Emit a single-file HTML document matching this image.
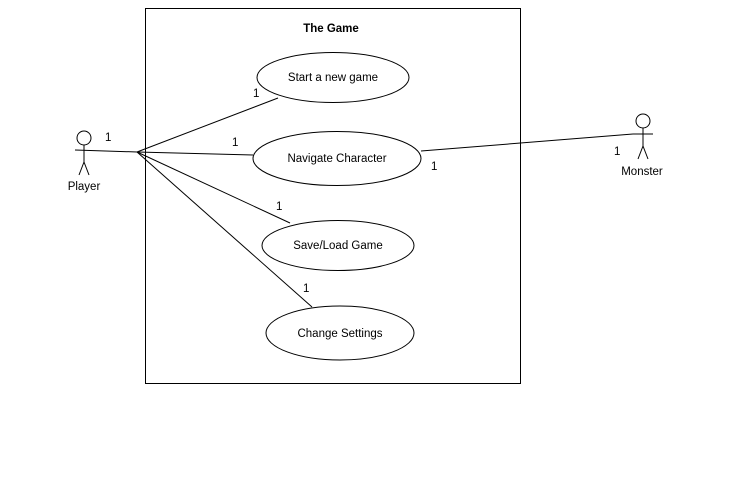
<!DOCTYPE html><html><head><style>body{margin:0;background:#fff}svg{display:block}text{font-family:"Liberation Sans",sans-serif;font-size:11.5px;fill:#000}</style></head><body>
<svg width="732" height="504" viewBox="0 0 732 504">
<rect x="145.5" y="8.5" width="375" height="375" fill="#fff" stroke="#000"/>
<text x="331" y="32" text-anchor="middle" font-weight="bold">The Game</text>
<g stroke="#000" fill="none">
<line x1="137" y1="152" x2="278" y2="98"/>
<line x1="137" y1="152" x2="253" y2="155"/>
<line x1="137" y1="152" x2="290" y2="223"/>
<line x1="137" y1="152" x2="312" y2="307"/>
<line x1="75" y1="150" x2="137" y2="152"/>
<line x1="421" y1="151" x2="633" y2="134"/>
<ellipse cx="333" cy="77.5" rx="76" ry="25" fill="#fff"/>
<ellipse cx="337" cy="158.5" rx="84" ry="27" fill="#fff"/>
<ellipse cx="338" cy="245.5" rx="76" ry="25" fill="#fff"/>
<ellipse cx="340" cy="333" rx="74" ry="27" fill="#fff"/>
<circle cx="84" cy="138" r="7"/>
<line x1="84" y1="145" x2="84" y2="162"/><line x1="84" y1="162" x2="79" y2="175"/><line x1="84" y1="162" x2="89" y2="175"/>
<circle cx="643" cy="121" r="7"/>
<line x1="643" y1="128" x2="643" y2="146"/><line x1="633" y1="134" x2="653" y2="134"/><line x1="643" y1="146" x2="638" y2="159"/><line x1="643" y1="146" x2="648" y2="159"/>
</g>
<text x="333" y="81" text-anchor="middle">Start a new game</text>
<text x="337" y="162" text-anchor="middle">Navigate Character</text>
<text x="338" y="249" text-anchor="middle">Save/Load Game</text>
<text x="340" y="337" text-anchor="middle">Change Settings</text>
<text x="84" y="190" text-anchor="middle">Player</text>
<text x="642" y="175" text-anchor="middle">Monster</text>
<text x="105" y="141">1</text>
<text x="253" y="97">1</text>
<text x="232" y="146">1</text>
<text x="276" y="210">1</text>
<text x="303" y="292">1</text>
<text x="431" y="170">1</text>
<text x="614" y="155">1</text>
</svg></body></html>
